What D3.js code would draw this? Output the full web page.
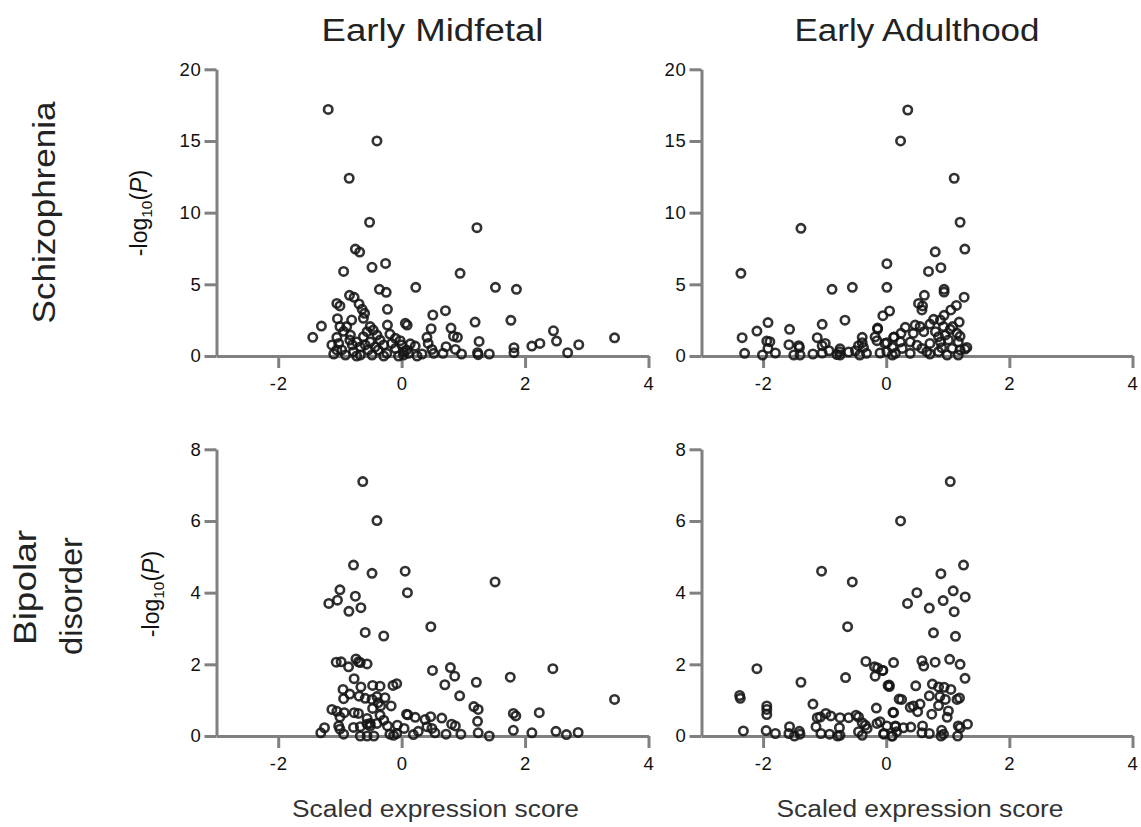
<!DOCTYPE html>
<html>
<head>
<meta charset="utf-8">
<script src="https://cdn.jsdelivr.net/npm/d3@7"></script>
<style>
  html, body { margin: 0; padding: 0; background: #fff; }
  svg { display: block; font-family: "Liberation Sans", Arial, Helvetica, sans-serif; }
</style>
</head>
<body>
<svg id="chart" width="1141" height="827"></svg>
<script>
// ---------- data ----------
const columnTitles = ["Early Midfetal", "Early Adulthood"];
const rowTitles = [["Schizophrenia"], ["Bipolar", "disorder"]];
const xTicks = [-2, 0, 2, 4];
const yTicksScz = [0, 5, 10, 15, 20];
const yTicksBd = [0, 2, 4, 6, 8];
const xAxisTitle = "Scaled expression score";

// Schizophrenia, Early Midfetal  [score, -log10 P]
const sczMidfetal = [
  [-1.19,17.2],[-0.40,15.0],[-0.85,12.4],[-0.52,9.33],[-0.75,7.46],[-0.68,7.25],[-0.94,5.9],[-0.48,6.19],
  [-0.26,6.46],[-0.36,4.65],[-0.25,4.44],[-0.845,4.23],[-0.77,4.09],[-1.05,3.67],[-1.0,3.49],[-0.69,3.63],
  [-0.64,3.26],[-0.60,2.98],[-0.23,3.26],[-1.04,2.6],[-0.81,2.51],[-0.62,2.63],[-0.23,2.16],[0.06,2.28],
  [0.09,2.16],[-1.3,2.09],[-1.44,1.30],[-1.0,2.05],[-0.51,2.05],
  [1.22,8.95],[0.947,5.77],[0.229,4.79],[1.52,4.79],[1.86,4.65],[0.71,3.16],[0.505,2.86],[1.19,2.37],
  [1.77,2.49],[0.478,1.90],[0.80,1.95],[2.46,1.76],[-0.024,1.07],[0.41,1.30],[0.84,1.38],[0.904,1.30],
  [1.255,1.02],[2.51,1.04],[3.45,1.27],[2.24,0.88],[2.11,0.69],[2.87,0.79],[1.82,0.58],[1.82,0.23],
  [0.14,0.85],[0.22,0.69],[0.43,0.88],[0.49,0.46],[0.72,0.65],[0.87,0.46],[1.23,0.23],[1.24,0.09],
  [1.42,0.14],[2.69,0.23],[0.03,0.3],[0.11,0.19],[0.25,0.0],[0.33,0.14],[0.52,0.19],[0.67,0.19],[0.97,0.14],
  [-1.13,0.77],[-1.05,1.30],[-1.02,0.88],[-0.97,0.42],[-0.94,1.72],[-0.91,0.07],[-0.84,1.11],[-0.83,1.46],
  [-0.78,0.30],[-0.73,0.98],[-0.67,0.63],[-0.67,0.07],[-0.62,1.35],[-0.56,1.70],[-0.54,0.42],[-0.51,0.98],
  [-0.48,0.07],[-0.46,1.81],[-0.40,1.46],[-0.38,0.42],[-0.35,1.11],[-0.29,0.77],[-0.24,0.19],[-0.19,1.53],
  [-0.16,0.88],[-0.10,0.53],[-0.05,0.0],[0.00,0.77],[0.08,0.42],[-0.89,2.05],[-0.80,0.77],[-0.59,0.77],
  [-0.43,0.63],[-1.05,0.42],[-1.10,0.14],[-0.29,0.0],[-0.73,0.0],[0.03,0.07],[-0.10,1.23]
];

// Schizophrenia, Early Adulthood
const sczAdulthood = [
  [0.35,17.16],[0.233,15.0],[1.104,12.4],[1.20,9.33],[1.277,7.46],[0.796,7.27],[0.687,5.9],[0.888,6.16],
  [0.011,6.44],[0.011,4.79],[0.94,4.65],[0.94,4.46],[1.266,4.1],[0.62,4.23],[0.525,3.67],[0.59,3.49],
  [0.58,3.21],[1.14,3.53],[1.05,3.21],[0.94,2.84],[0.054,3.14],[-0.054,2.81],[1.185,2.37],[1.2,1.37],
  [1.31,0.6],[1.28,0.48],
  [-2.36,5.77],[-1.385,8.91],[-0.88,4.65],[-0.55,4.79],[-2.34,1.28],[-2.30,0.19],[-2.10,1.74],[-1.92,2.33],
  [-1.94,1.04],[-1.89,1.0],[-1.92,0.53],[-2.01,0.07],[-1.80,0.21],[-1.57,1.86],[-1.58,0.79],[-1.42,0.72],
  [-1.41,0.6],[-1.50,0.07],[-1.40,0.07],[-1.19,0.14],[-1.12,1.28],[-1.04,2.21],[-1.04,0.72],[-0.99,0.88],
  [-1.04,0.21],[-0.93,0.37],[-0.75,0.5],[-0.76,0.3],[-0.8,0.1],[-0.75,0.07],[-0.67,2.5],[-0.61,0.28],
  [-0.5,0.37],[-0.45,0.72],[-0.39,0.93],[-0.37,0.6],[-0.32,0.19],[-0.43,0.07],[-0.39,1.3],[-0.14,1.95],
  [-0.14,1.88],[-0.18,1.33],[-0.15,1.07],[0.01,0.93],[-0.1,0.21],[0.1,0.07],[0.1,0.6],[0.13,1.33],
  [0.77,2.56],[0.71,2.23],[0.88,2.51],[0.93,2.05],[1.04,1.86],[1.08,2.05],[0.47,2.16],[0.55,2.05],
  [0.31,2.0],[0.12,1.3],[0.24,1.58],[0.44,1.58],[0.61,1.7],[0.80,1.7],[0.85,1.35],[0.96,1.46],
  [1.15,1.58],[0.39,0.98],[0.50,0.75],[0.71,0.88],[0.88,0.98],[1.01,1.12],[1.07,0.53],[-0.02,0.88],
  [0.01,0.3],[0.15,0.19],[0.26,0.53],[0.39,0.19],[0.66,0.3],[0.71,0.14],[0.85,0.3],[0.99,0.07],
  [1.17,0.07],[1.2,0.42],[0.58,0.53],[0.9,0.58],[0.23,0.98],[1.17,0.98]
];

// Bipolar disorder, Early Midfetal
const bdMidfetal = [
  [-0.63,7.1],[-0.40,6.01],[-0.78,4.77],[-0.48,4.54],[-1.0,4.08],[-1.04,3.79],[-1.18,3.70],[-0.75,3.9],
  [-0.855,3.48],[-0.66,3.58],[-0.59,2.89],[-0.29,2.79],[-1.06,2.06],[-0.98,2.07],[-0.86,1.93],[-0.74,2.15],
  [-0.70,2.07],[-0.67,2.05],[-0.56,2.01],[-0.77,1.60],[-0.95,1.30],[-0.66,1.37],[-0.47,1.41],[-0.35,1.39],
  [-0.14,1.41],[-0.08,1.46],[-0.84,1.17],[-0.69,1.11],[-0.94,1.04],
  [-0.59,1.05],[-0.48,1.02],[-0.40,1.10],[-0.27,1.07],[-1.13,0.74],[-1.05,0.69],[-0.93,0.65],[-0.77,0.65],
  [-0.70,0.63],[-0.47,0.77],[-0.38,0.93],[-0.34,0.84],[-0.17,0.84],[-1.0,0.53],[-0.56,0.49],[-0.51,0.35],
  [-0.35,0.58],[-0.29,0.44],[-1.31,0.09],[-1.25,0.23],[-1.02,0.28],[-1.0,0.19],[-0.94,0.05],[-0.78,0.24],
  [-0.67,0.26],[-0.56,0.33],[-0.51,0.28],[-0.40,0.35],[-0.67,0.0],[-0.56,0.0],[-0.45,0.0],[-0.23,0.28],
  [-0.07,0.30],[-0.19,0.05],[-0.13,0.02],[-0.08,0.07],[0.08,0.61],
  [0.057,4.6],[0.094,4.0],[1.514,4.3],[0.473,3.05],[0.5,1.83],[0.79,1.91],[0.86,1.67],[0.70,1.43],
  [1.21,1.50],[0.94,1.12],[1.76,1.64],[2.45,1.88],[3.45,1.02],[1.17,0.82],[1.24,0.74],[1.23,0.41],
  [1.81,0.63],[1.85,0.56],[2.23,0.65],[0.1,0.59],[0.22,0.52],[0.38,0.46],[0.47,0.54],[0.65,0.50],
  [0.81,0.33],[0.87,0.28],[0.04,0.21],[0.19,0.04],[0.27,0.13],[0.54,0.09],[0.72,0.05],[0.96,0.05],
  [1.24,0.09],[1.42,0.0],[1.81,0.16],[2.11,0.09],[2.5,0.13],[2.67,0.04],[2.86,0.10],[0.41,0.26],[0.49,0.21]
];

// Bipolar disorder, Early Adulthood
const bdAdulthood = [
  [-1.05,4.6],[-0.551,4.3],[-0.627,3.05],[-2.10,1.88],[-1.385,1.5],[-2.38,1.13],[-2.37,1.05],[-1.94,0.84],
  [-1.94,0.74],[-1.94,0.6],[-1.19,0.89],[-2.32,0.14],[-1.95,0.15],[-1.80,0.07],[-1.57,0.26],[-1.58,0.07],
  [-1.49,0.0],[-1.41,0.13],[-1.40,0.05],[-1.12,0.51],[-1.07,0.53],[-0.98,0.63],[-0.90,0.56],[-1.14,0.26],
  [-1.06,0.07],[-0.92,0.05],[-0.79,0.0],[-0.75,0.02],[-0.76,0.23],[-0.75,0.51],[-0.61,0.51],[-0.49,0.58],
  [-0.45,0.53],[-0.66,1.63],[-0.33,2.08],[-0.19,1.93],[-0.14,1.9],[-0.06,1.83],[-0.18,1.67],[0.12,2.05],
  [0.03,1.41],[0.05,1.38],[0.21,1.03],[-0.16,0.78],[0.12,0.65],[-0.39,0.37],[-0.34,0.30],[-0.31,0.21],
  [-0.45,0.12],[-0.39,0.02],[-0.15,0.35],[-0.10,0.40],[0.01,0.28],[-0.04,0.05],[0.09,0.0],[0.15,0.26],[0.17,0.12],
  [1.04,7.1],[0.233,6.0],[1.256,4.77],[0.888,4.53],[0.498,4.0],[0.346,3.7],[1.088,4.05],[0.925,3.78],
  [1.283,3.88],[0.70,3.57],[1.104,3.47],[0.768,2.88],[1.125,2.78],[0.58,2.1],[0.61,1.95],[0.795,2.06],
  [1.03,2.14],[1.2,2.0],[-0.054,1.83],[1.28,1.61],[0.049,1.42],[0.48,1.4],
  [0.75,1.45],[0.85,1.37],[0.94,1.36],[1.05,1.30],[0.70,1.12],[0.87,1.10],[0.96,1.02],[1.15,1.02],
  [1.19,1.06],[0.25,1.02],[0.39,0.80],[0.44,0.84],[0.55,0.89],[0.51,0.68],[0.74,0.61],[0.85,0.85],
  [1.01,0.70],[0.99,0.52],[0.11,0.66],[1.32,0.33],[1.17,0.28],[1.20,0.23],[0.15,0.28],[0.28,0.23],
  [0.40,0.25],[0.59,0.28],[0.58,0.09],[0.70,0.07],[0.90,0.16],[0.93,0.05],[0.89,0.0],[1.16,0.0],
  [0.10,0.0],[-0.04,0.07]
];

// ---------- layout ----------
const svg = d3.select("#chart");
const colRanges = [[216.5, 648.5], [701.5, 1132.5]];
const rowRanges = [[356, 69.3], [736, 449.3]];
const xDomain = [-3, 4];
const yDomains = [[0, 20], [0, 8]];
const yTickSets = [yTicksScz, yTicksBd];
const panels = [
  {row: 0, col: 0, data: sczMidfetal},
  {row: 0, col: 1, data: sczAdulthood},
  {row: 1, col: 0, data: bdMidfetal},
  {row: 1, col: 1, data: bdAdulthood}
];
const axisColor = "#808080";
const textColor = "#111";

panels.forEach(p => {
  const x = d3.scaleLinear().domain(xDomain).range(colRanges[p.col]);
  const y = d3.scaleLinear().domain(yDomains[p.row]).range(rowRanges[p.row]);
  const g = svg.append("g");

  const xa = g.append("g")
    .attr("transform", `translate(0,${y(0)})`)
    .call(d3.axisBottom(x).tickValues(xTicks).tickFormat(d3.format("d"))
      .tickSize(12).tickSizeOuter(0).tickPadding(9));
  const ya = g.append("g")
    .attr("transform", `translate(${x(-3)},0)`)
    .call(d3.axisLeft(y).tickValues(yTickSets[p.row]).tickFormat(d3.format("d"))
      .tickSize(12).tickSizeOuter(0).tickPadding(3));

  [xa, ya].forEach(a => {
    a.select(".domain").attr("stroke", axisColor).attr("stroke-width", 3);
    a.selectAll(".tick line").attr("stroke", axisColor).attr("stroke-width", 3);
    a.selectAll(".tick text")
      .attr("fill", textColor)
      .style("font-size", "18.5px")
      .style("letter-spacing", "0.7px")
      .style("font-family", '"Liberation Sans", Arial, sans-serif');
  });
  xa.selectAll(".tick text").text(d => d3.format("d")(d).replace("−", "-"));
  ya.selectAll(".tick text").text(d => d3.format("d")(d).replace("−", "-"));

  g.append("g").selectAll("circle")
    .data(p.data)
    .join("circle")
    .attr("cx", d => x(d[0]))
    .attr("cy", d => y(d[1]))
    .attr("r", 4.2)
    .attr("fill", "none")
    .attr("stroke", "#161616")
    .attr("stroke-opacity", 0.88)
    .attr("stroke-width", 2.6);
});

// column titles
const titleCenters = [432.5, 917];
const titleLengths = [222, 245];
columnTitles.forEach((t, i) => {
  svg.append("text")
    .attr("x", titleCenters[i]).attr("y", 41)
    .attr("text-anchor", "middle")
    .attr("fill", "#222")
    .attr("textLength", titleLengths[i])
    .attr("lengthAdjust", "spacingAndGlyphs")
    .style("font-size", "31px")
    .text(t);
});

// row titles (rotated)
const rowLabelSpecs = [
  [{text: rowTitles[0][0], bx: 55, cy: 212.5, len: 222}],
  [{text: rowTitles[1][0], bx: 36, cy: 587.5, len: 115},
   {text: rowTitles[1][1], bx: 82, cy: 596, len: 118}]
];
rowLabelSpecs.flat().forEach(s => {
  svg.append("text")
    .attr("transform", `translate(${s.bx},${s.cy}) rotate(-90)`)
    .attr("text-anchor", "middle")
    .attr("fill", "#222")
    .attr("textLength", s.len)
    .attr("lengthAdjust", "spacingAndGlyphs")
    .style("font-size", "31px")
    .text(s.text);
});

// y axis titles: -log10(P)
const yLabelPos = [[146.5, 213], [158.5, 594]];
yLabelPos.forEach(([bx, cy]) => {
  const t = svg.append("text")
    .attr("transform", `translate(${bx},${cy}) rotate(-90)`)
    .attr("text-anchor", "middle")
    .attr("fill", textColor)
    .style("font-size", "23px");
  t.append("tspan").text("-log");
  t.append("tspan").attr("dy", 5).style("font-size", "15.5px").text("10");
  t.append("tspan").attr("dy", -5).text("(");
  t.append("tspan").style("font-style", "italic").text("P");
  t.append("tspan").text(")");
});

// x axis titles
[435.5, 920].forEach(cx => {
  svg.append("text")
    .attr("x", cx).attr("y", 817)
    .attr("text-anchor", "middle")
    .attr("fill", "#333")
    .attr("textLength", 287)
    .attr("lengthAdjust", "spacingAndGlyphs")
    .style("font-size", "23px")
    .text(xAxisTitle);
});
</script>
</body>
</html>
